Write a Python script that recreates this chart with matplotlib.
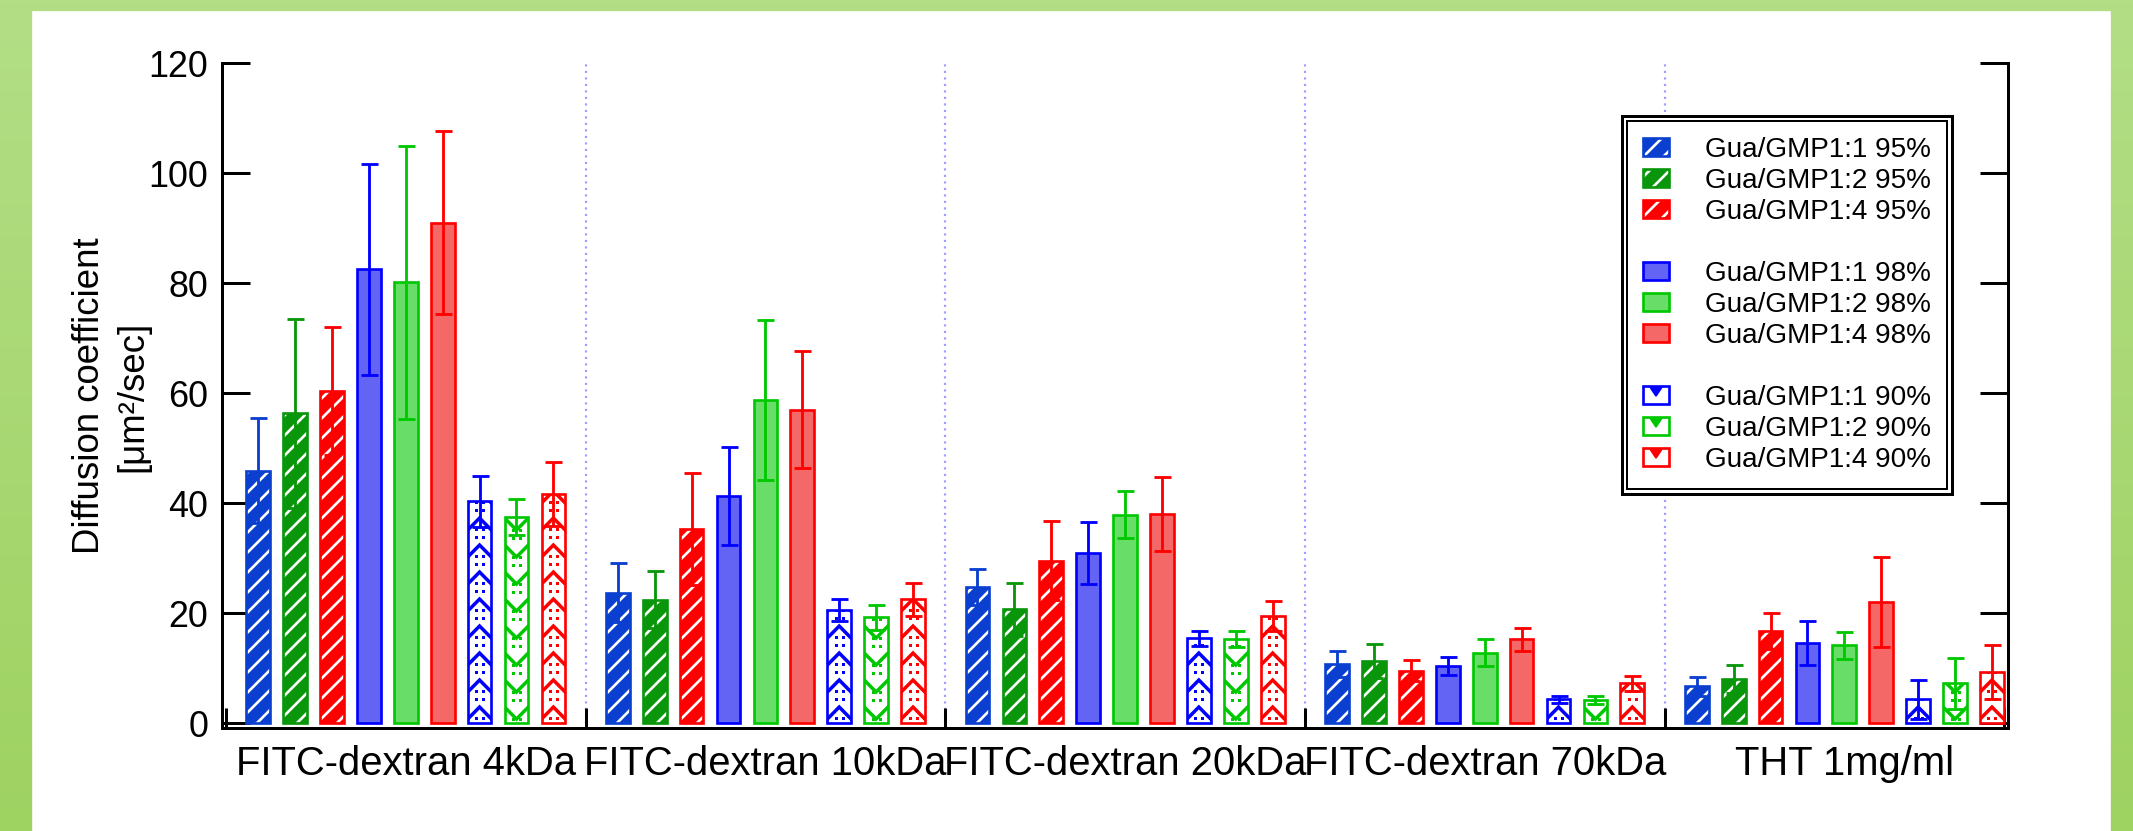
import numpy as np
import matplotlib.pyplot as plt
from matplotlib.patches import Rectangle
from matplotlib.lines import Line2D
from matplotlib.colors import LinearSegmentedColormap

plt.rcParams['font.family'] = ['Liberation Sans', 'DejaVu Sans']
plt.rcParams['hatch.linewidth'] = 1.6

categories = ['FITC-dextran 4kDa', 'FITC-dextran 10kDa', 'FITC-dextran 20kDa',
              'FITC-dextran 70kDa', 'THT 1mg/ml']

# mean diffusion coefficients (um^2/sec) and standard deviations
gmp11_95 = [45.9, 23.7, 24.7, 10.7, 6.7]
gmp12_95 = [56.3, 22.4, 20.7, 11.3, 8.0]
gmp14_95 = [60.4, 35.3, 29.5, 9.5, 16.7]
gmp11_98 = [82.5, 41.3, 30.9, 10.4, 14.5]
gmp12_98 = [80.1, 58.7, 37.9, 12.8, 14.1]
gmp14_98 = [91.0, 57.0, 38.0, 15.2, 22.0]
gmp11_90 = [40.3, 20.5, 15.4, 4.3, 4.3]
gmp12_90 = [37.5, 19.2, 15.3, 4.2, 7.2]
gmp14_90 = [41.6, 22.5, 19.5, 7.2, 9.2]

sd11_95 = [9.6, 5.4, 3.3, 2.4, 1.7]
sd12_95 = [17.2, 5.2, 4.8, 3.1, 2.6]
sd14_95 = [11.6, 10.2, 7.2, 1.9, 3.3]
sd11_98 = [19.2, 8.9, 5.6, 1.6, 4.0]
sd12_98 = [24.9, 14.5, 4.2, 2.4, 2.4]
sd14_98 = [16.6, 10.6, 6.7, 2.1, 8.1]
sd11_90 = [4.6, 2.0, 1.4, 0.7, 3.6]
sd12_90 = [3.3, 2.2, 1.5, 0.7, 4.7]
sd14_90 = [5.8, 3.0, 2.7, 1.4, 4.9]

labels = ['Gua/GMP1:1 95%', 'Gua/GMP1:2 95%', 'Gua/GMP1:4 95%',
          'Gua/GMP1:1 98%', 'Gua/GMP1:2 98%', 'Gua/GMP1:4 98%',
          'Gua/GMP1:1 90%', 'Gua/GMP1:2 90%', 'Gua/GMP1:4 90%']

series = [
    (gmp11_95, sd11_95, '#0a3fcf', '#0a3fcf', 'stripe'),
    (gmp12_95, sd12_95, '#0a960a', '#0a960a', 'stripe'),
    (gmp14_95, sd14_95, '#ff0000', '#ff0000', 'stripe'),
    (gmp11_98, sd11_98, '#0000ff', '#6464f4', 'tint'),
    (gmp12_98, sd12_98, '#00c800', '#68dd68', 'tint'),
    (gmp14_98, sd14_98, '#ff0000', '#f56868', 'tint'),
    (gmp11_90, sd11_90, '#0000ff', 'white', 'chevron_up'),
    (gmp12_90, sd12_90, '#00c800', 'white', 'chevron_down'),
    (gmp14_90, sd14_90, '#ff0000', 'white', 'chevron_up'),
]

DPI = 120
W, H = 2133, 831
fig = plt.figure(figsize=(W / DPI, H / DPI), dpi=DPI)

# green backdrop with a white panel
bg = fig.add_axes([0, 0, 1, 1], zorder=-10)
cmap = LinearSegmentedColormap.from_list('bg', ['#b3de86', '#9ed261'])
bg.imshow(np.linspace(0, 1, 256)[:, None], aspect='auto', cmap=cmap,
          extent=[0, 1, 0, 1], origin='upper')
bg.add_patch(Rectangle((33 / W, 0), (2110 - 33) / W, (831 - 12) / H,
                       transform=bg.transAxes, color='white'))
bg.set_axis_off()

left, right, top, bottom = 222, 2008, 63, 728
ax = fig.add_axes([left / W, 1 - bottom / H, (right - left) / W, (bottom - top) / H])
xmin, xmax = -0.011, 4.955
ymin, ymax = -0.9, 120
ax.set_xlim(xmin, xmax)
ax.set_ylim(ymin, ymax)

# data units per pixel, for the chevron pattern
ux = (xmax - xmin) / (right - left)
uy = (ymax - ymin) / (bottom - top)

pitch = 0.1026
bw = 0.066
centers = np.arange(len(categories)) + 0.5

handles = []
for i, (vals, errs, edge, face, style) in enumerate(series):
    xs = centers + (i - 4) * pitch
    if style == 'stripe':
        filled = ax.bar(xs, vals, bw, color=face, edgecolor='white', hatch='//',
                        linewidth=0, zorder=2)
    else:
        filled = ax.bar(xs, vals, bw, color=face, linewidth=0, zorder=2)
    outline = ax.bar(xs, vals, bw, fill=False, edgecolor=edge, linewidth=1.6, zorder=3)

    if style.startswith('chevron'):
        period, rise = 27 * uy, 12 * uy
        half = bw / 2
        ext = half * 0.5
        slope = rise / half
        for x, v, rect in zip(xs, vals, filled.patches):
            for k in range(-1, int(v / period) + 2):
                yb = k * period + 4 * uy
                if style == 'chevron_up':
                    ys = [yb - slope * ext, yb + rise, yb - slope * ext]
                    dot_y = [yb + rise + 0.3 * period, yb + rise + 0.6 * period]
                else:
                    ys = [yb + rise + slope * ext, yb, yb + rise + slope * ext]
                    dot_y = [yb + rise + 0.25 * period, yb + rise + 0.55 * period]
                ln, = ax.plot([x - half - ext, x, x + half + ext], ys, color=edge,
                              lw=2.1, zorder=2.5, solid_joinstyle='miter')
                ln.set_clip_path(rect)
                dx = [x - 3.5 * ux, x + 3.5 * ux] * 2
                dy = [dot_y[0]] * 2 + [dot_y[1]] * 2
                dots, = ax.plot(dx, dy, ls='none', marker='s', ms=1.8, mew=0,
                                color=edge, zorder=2.5)
                dots.set_clip_path(rect)
        handles.append((outline.patches[0],
                        Line2D([], [], ls='none', marker=7, ms=7, color=edge)))
    else:
        handles.append((filled.patches[0], outline.patches[0]))

    ax.errorbar(xs, vals, yerr=errs, fmt='none', ecolor=edge, elinewidth=1.7,
                capsize=5.1, capthick=1.7, zorder=4)

# dotted separators between sample groups
ax.vlines(np.arange(1, 5), 0, ymax, colors='#9d9dff', linestyles=(0, (1, 2)),
          lw=1.3, zorder=1)

ax.set_xticks(centers)
ax.set_xticklabels(categories, fontsize=24)
ax.tick_params(axis='x', which='major', length=0, pad=10)
ax.set_xticks([0, 1, 2, 3, 4, xmax - 0.012], minor=True)
ax.tick_params(axis='x', which='minor', direction='in', length=12, width=1.8)
ax.set_yticks(np.arange(0, 121, 20))
ax.tick_params(axis='y', direction='in', length=16.8, width=1.8, left=True,
               right=True, labelsize=21.5, pad=8.4)
for s in ['left', 'right', 'bottom']:
    ax.spines[s].set_linewidth(1.8)
ax.spines['top'].set_visible(False)

fig.text(111 / W, 1 - 396 / H, 'Diffusion coefficient\n[μm²/sec]', rotation=90,
         ha='center', va='center', multialignment='center', fontsize=22,
         linespacing=1.3, family=['Liberation Sans Narrow', 'Liberation Sans'])

blank = Rectangle((0, 0), 1, 1, visible=False)
leg_handles = handles[:3] + [blank] + handles[3:6] + [blank] + handles[6:]
leg_labels = labels[:3] + [' '] + labels[3:6] + [' '] + labels[6:]
leg = ax.legend(leg_handles, leg_labels, loc='upper left',
                bbox_to_anchor=(1622 / W, 1 - 116 / H), bbox_transform=fig.transFigure,
                borderaxespad=0, fontsize=16.7, handlelength=0.94, handleheight=0.61,
                handletextpad=1.3, labelspacing=0.18, borderpad=0.75, fancybox=False,
                edgecolor='black', framealpha=1)
leg.get_frame().set_linewidth(1.8)

# second, inner frame line around the legend
fig.canvas.draw()
bb = leg.get_frame().get_window_extent()
fig.add_artist(Rectangle(((bb.x0 + 5) / W, (bb.y0 + 5) / H), (bb.width - 10) / W,
                         (bb.height - 10) / H, transform=fig.transFigure, fill=False,
                         edgecolor='black', lw=1.2, zorder=10))

fig.savefig('out.png', dpi=DPI)
